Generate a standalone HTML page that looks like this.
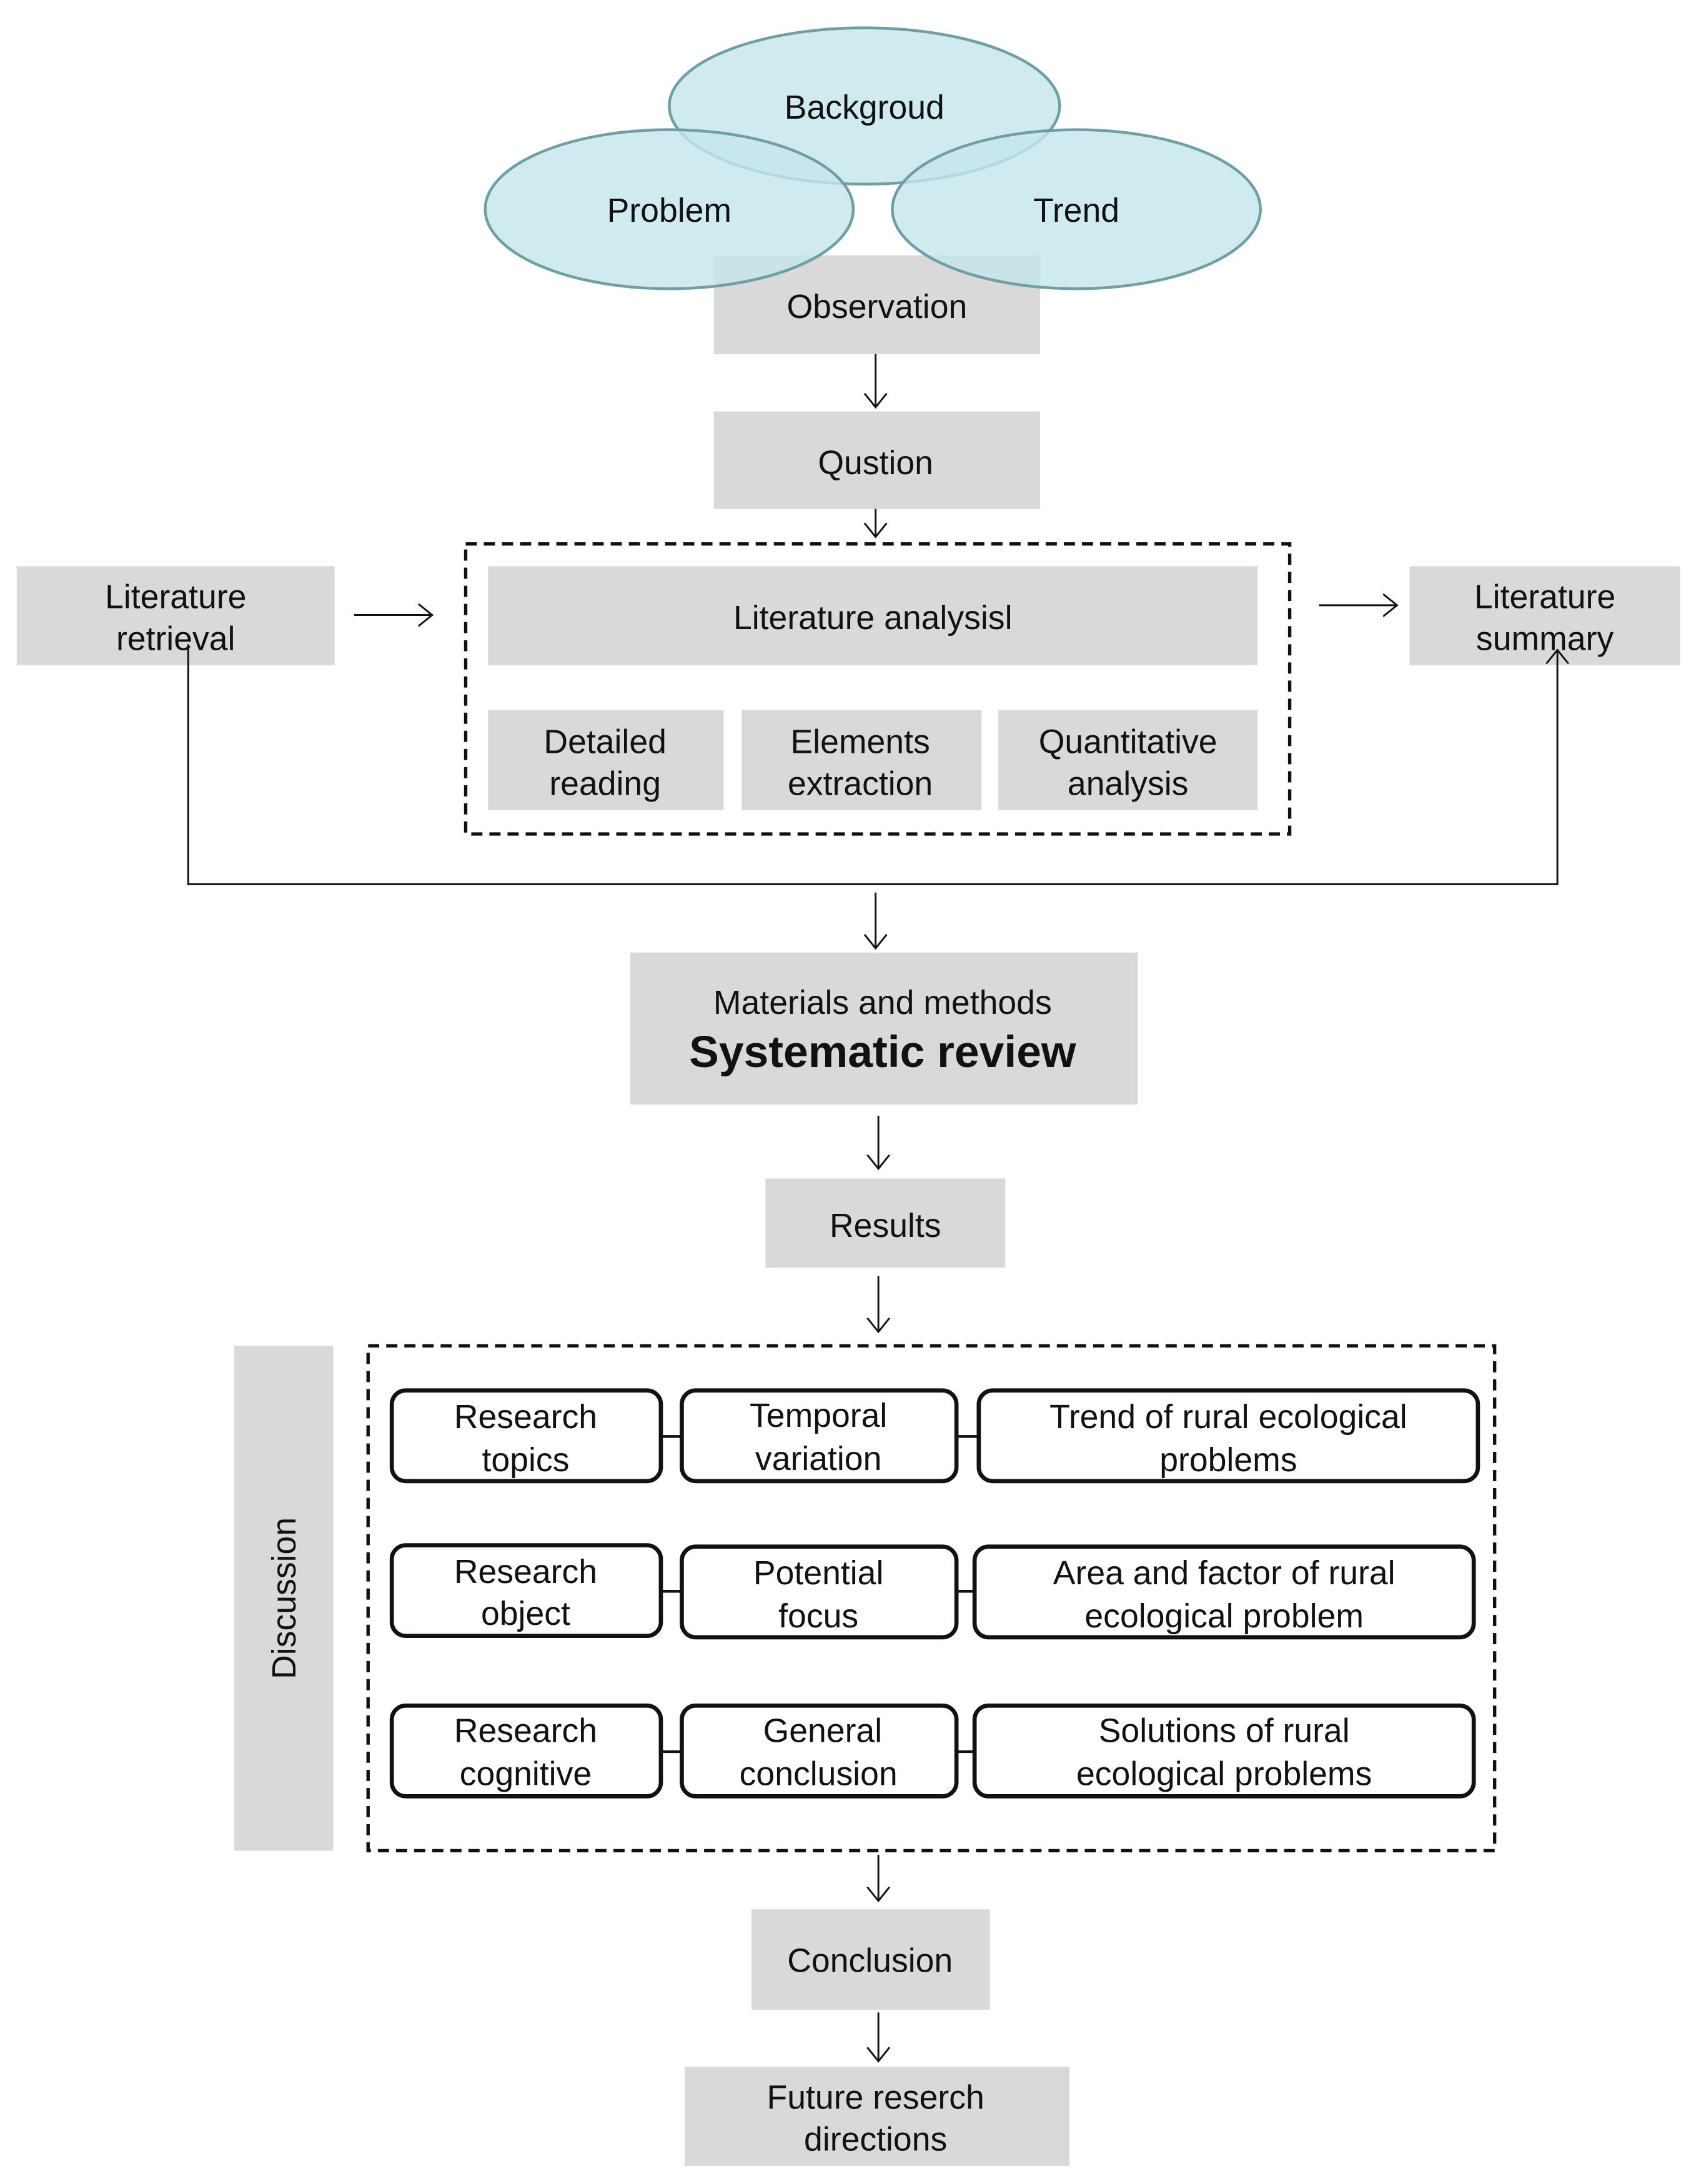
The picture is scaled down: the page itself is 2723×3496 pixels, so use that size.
<!DOCTYPE html>
<html><head><meta charset="utf-8"><style>
html,body{margin:0;padding:0;background:#fff;}
svg{display:block;}
text{font-family:"Liberation Sans",Arial,sans-serif;fill:#111;}
</style></head><body>
<svg width="2723" height="3496" viewBox="0 0 1220 1566" preserveAspectRatio="none" xmlns="http://www.w3.org/2000/svg">
<defs>
<marker id="ah" markerWidth="20" markerHeight="20" refX="10" refY="10" orient="auto" markerUnits="userSpaceOnUse">
<polyline points="0,2 10,10 0,18" fill="none" stroke="#111" stroke-width="1.3"/>
</marker>
</defs>
<g fill="#d9d9d9">
<rect x="512" y="183" width="234" height="71"/>
<rect x="512" y="295" width="234" height="70"/>
<rect x="12" y="406" width="228" height="71"/>
<rect x="1011" y="406" width="194" height="71"/>
<rect x="350" y="406" width="552" height="71"/>
<rect x="350" y="509" width="169" height="72"/>
<rect x="532" y="509" width="172" height="72"/>
<rect x="716" y="509" width="186" height="72"/>
<rect x="452" y="683" width="364" height="109"/>
<rect x="549" y="845" width="172" height="64"/>
<rect x="168" y="965" width="71" height="362"/>
<rect x="539" y="1369" width="171" height="72"/>
<rect x="491" y="1482" width="276" height="71"/>
</g>
<g fill="#c4e6ec" fill-opacity="0.8" stroke="#6f9fa2" stroke-width="2">
<ellipse cx="620" cy="76" rx="140" ry="56"/>
<ellipse cx="480" cy="150" rx="132" ry="57"/>
<ellipse cx="772" cy="150" rx="132" ry="57"/>
</g>
<g font-size="24" text-anchor="middle">
<text x="620" y="85">Backgroud</text>
<text x="480" y="159">Problem</text>
<text x="772" y="159">Trend</text>
<text x="629" y="228">Observation</text>
<text x="628" y="340">Qustion</text>
<text x="126" y="436">Literature</text>
<text x="126" y="466">retrieval</text>
<text x="1108" y="436">Literature</text>
<text x="1108" y="466">summary</text>
<text x="626" y="451">Literature analysisl</text>
<text x="434" y="540">Detailed</text>
<text x="434" y="570">reading</text>
<text x="617" y="540">Elements</text>
<text x="617" y="570">extraction</text>
<text x="809" y="540">Quantitative</text>
<text x="809" y="570">analysis</text>
<text x="633" y="727">Materials and methods</text>
<text x="633" y="765" font-size="32" font-weight="bold">Systematic review</text>
<text x="635" y="887">Results</text>
<text x="624" y="1414">Conclusion</text>
<text x="628" y="1512">Future reserch</text>
<text x="628" y="1542">directions</text>
<text transform="translate(212,1146) rotate(-90)">Discussion</text>
</g>
<g fill="none" stroke="#111" stroke-width="2.4" stroke-dasharray="8,5">
<rect x="334" y="390" width="591" height="208"/>
<rect x="264" y="965" width="808" height="362"/>
</g>
<g fill="none" stroke="#111" stroke-width="1.3" marker-end="url(#ah)">
<line x1="628" y1="254" x2="628" y2="292"/>
<line x1="628" y1="365" x2="628" y2="385"/>
<line x1="254" y1="441" x2="310" y2="441"/>
<line x1="946" y1="434" x2="1002" y2="434"/>
<polyline points="135,462 135,634 1117,634 1117,466"/>
<line x1="628" y1="640" x2="628" y2="680"/>
<line x1="630" y1="800" x2="630" y2="838"/>
<line x1="630" y1="915" x2="630" y2="955"/>
<line x1="630" y1="1330" x2="630" y2="1363"/>
<line x1="630" y1="1443" x2="630" y2="1478"/>
</g>
<g fill="#fff" stroke="#111" stroke-width="3">
<rect x="281" y="997" width="193" height="65" rx="10"/>
<rect x="489" y="997" width="197" height="65" rx="10"/>
<rect x="702" y="997" width="358" height="65" rx="10"/>
<rect x="281" y="1108" width="193" height="65" rx="10"/>
<rect x="489" y="1109" width="197" height="65" rx="10"/>
<rect x="699" y="1109" width="358" height="65" rx="10"/>
<rect x="281" y="1223" width="193" height="65" rx="10"/>
<rect x="489" y="1223" width="197" height="65" rx="10"/>
<rect x="699" y="1223" width="358" height="65" rx="10"/>
</g>
<g stroke="#111" stroke-width="2">
<line x1="474" y1="1030" x2="489" y2="1030"/><line x1="686" y1="1030" x2="702" y2="1030"/>
<line x1="474" y1="1141" x2="489" y2="1141"/><line x1="686" y1="1141" x2="699" y2="1141"/>
<line x1="474" y1="1256" x2="489" y2="1256"/><line x1="686" y1="1256" x2="699" y2="1256"/>
</g>
<g font-size="24" text-anchor="middle">
<text x="377" y="1024">Research</text><text x="377" y="1055">topics</text>
<text x="587" y="1023">Temporal</text><text x="587" y="1054">variation</text>
<text x="881" y="1024">Trend of rural ecological</text><text x="881" y="1055">problems</text>
<text x="377" y="1135">Research</text><text x="377" y="1165">object</text>
<text x="587" y="1136">Potential</text><text x="587" y="1167">focus</text>
<text x="878" y="1136">Area and factor of rural</text><text x="878" y="1167">ecological problem</text>
<text x="377" y="1249">Research</text><text x="377" y="1280">cognitive</text>
<text x="590" y="1249">General</text><text x="587" y="1280">conclusion</text>
<text x="878" y="1249">Solutions of rural</text><text x="878" y="1280">ecological problems</text>
</g>
</svg>
</body></html>
